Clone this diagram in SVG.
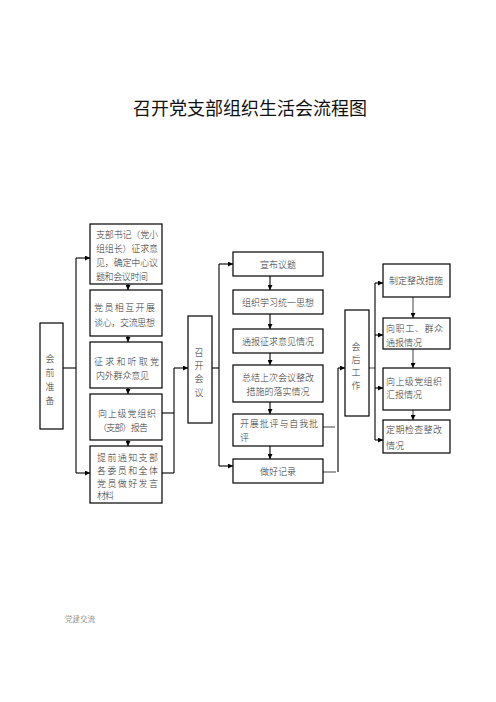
<svg xmlns="http://www.w3.org/2000/svg" width="496" height="702" viewBox="0 0 496 702">
<style>
.box{fill:#fff;stroke:#000;stroke-width:1.2}
.t{font-family:"Noto Sans CJK SC","Liberation Sans",sans-serif;font-size:9px;font-weight:300;fill:#333;dominant-baseline:central}
.c{text-anchor:middle}
.ln{fill:none;stroke:#000;stroke-width:1.1}
.lg{fill:none;stroke:#555;stroke-width:1.1}
.title{font-family:"Noto Sans CJK SC","Liberation Sans",sans-serif;font-size:18px;font-weight:400;fill:#111;text-anchor:middle;dominant-baseline:central}
.foot{font-family:"Noto Sans CJK SC","Liberation Sans",sans-serif;font-size:7.5px;font-weight:300;fill:#555;dominant-baseline:central}
</style>
<defs>
<marker id="ah" viewBox="0 0 10 10" refX="10" refY="5" markerWidth="5" markerHeight="5" orient="auto" markerUnits="userSpaceOnUse">
<path d="M0,0 L10,5 L0,10 z" fill="#000"/>
</marker>
</defs>
<rect width="496" height="702" fill="#fff"/>
<text class="title" x="250" y="107">召开党支部组织生活会流程图</text>

<g id="connectors">
<path class="ln" d="M63,368 H76"/>
<path class="ln" d="M76,258 V473"/>
<path class="ln" d="M76,258 H90" marker-end="url(#ah)"/>
<path class="ln" d="M76,473 H90" marker-end="url(#ah)"/>
<path class="ln" d="M128,284 V290" marker-end="url(#ah)"/>
<path class="ln" d="M128,336 V342" marker-end="url(#ah)"/>
<path class="ln" d="M128,388 V394" marker-end="url(#ah)"/>
<path class="ln" d="M128,440 V446" marker-end="url(#ah)"/>
<path class="ln" d="M162,413 H174"/>
<path class="ln" d="M162,473 H174"/>
<path class="ln" d="M174,368 V473"/>
<path class="ln" d="M174,368 H188" marker-end="url(#ah)"/>
<path class="ln" d="M212,368 H219"/>
<path class="ln" d="M219,264 V466"/>
<path class="ln" d="M219,264 H233" marker-end="url(#ah)"/>
<path class="ln" d="M219,466 H233" marker-end="url(#ah)"/>
<path class="ln" d="M270,276 V290" marker-end="url(#ah)"/>
<path class="ln" d="M270,314 V329" marker-end="url(#ah)"/>
<path class="ln" d="M270,353 V365" marker-end="url(#ah)"/>
<path class="ln" d="M270,402 V414" marker-end="url(#ah)"/>
<path class="ln" d="M270,446 V459" marker-end="url(#ah)"/>
<path class="lg" d="M323,427 H335"/>
<path class="lg" d="M323,472 H336"/>
<path class="ln" d="M338,368 V472"/>
<path class="ln" d="M338,368 H345" marker-end="url(#ah)"/>
<path class="lg" d="M369,368 H375"/>
<path class="ln" d="M375,283 V440"/>
<path class="ln" d="M375,283 H383" marker-end="url(#ah)"/>
<path class="ln" d="M375,335 H383" marker-end="url(#ah)"/>
<path class="ln" d="M375,388 H383" marker-end="url(#ah)"/>
<path class="ln" d="M375,440 H383" marker-end="url(#ah)"/>
<path class="lg" d="M413,297 V318" marker-end="url(#ah)"/>
<path class="lg" d="M413,349 V368" marker-end="url(#ah)"/>
<path class="lg" d="M413,410 V420" marker-end="url(#ah)"/>
</g>

<g id="n-huiqian">
<rect class="box" x="40" y="323" width="23" height="106"/>
<text class="t c" x="50" y="358">会</text>
<text class="t c" x="50" y="372">前</text>
<text class="t c" x="50" y="386">准</text>
<text class="t c" x="50" y="400">备</text>
</g>

<g id="n-c1-1">
<rect class="box" x="90" y="224" width="72" height="60"/>
<text class="t" x="96" y="234" textLength="62" lengthAdjust="spacing">支部书记（党小</text>
<text class="t" x="96" y="248" textLength="62" lengthAdjust="spacing">组组长）征求意</text>
<text class="t" x="96" y="262" textLength="62" lengthAdjust="spacing">见，确定中心议</text>
<text class="t" x="96" y="276" textLength="52" lengthAdjust="spacing">题和会议时间</text>
</g>
<g id="n-c1-2">
<rect class="box" x="90" y="290" width="72" height="46"/>
<text class="t" x="94" y="307" textLength="61" lengthAdjust="spacing">党员相互开展</text>
<text class="t" x="94" y="322" textLength="61" lengthAdjust="spacing">谈心，交流思想</text>
</g>
<g id="n-c1-3">
<rect class="box" x="90" y="342" width="72" height="46"/>
<text class="t" x="94" y="361" textLength="65" lengthAdjust="spacing">征求和听取党</text>
<text class="t" x="96" y="375" textLength="53" lengthAdjust="spacing">内外群众意见</text>
</g>
<g id="n-c1-4">
<rect class="box" x="90" y="394" width="72" height="46"/>
<text class="t" x="98" y="413" textLength="58" lengthAdjust="spacing">向上级党组织</text>
<text class="t" x="98" y="427" textLength="50" lengthAdjust="spacing">（支部）报告</text>
</g>
<g id="n-c1-5">
<rect class="box" x="90" y="446" width="72" height="57"/>
<text class="t" x="97" y="457" textLength="61" lengthAdjust="spacing">提前通知支部</text>
<text class="t" x="97" y="470" textLength="61" lengthAdjust="spacing">各委员和全体</text>
<text class="t" x="97" y="483" textLength="61" lengthAdjust="spacing">党员做好发言</text>
<text class="t" x="97" y="495" textLength="17" lengthAdjust="spacing">材料</text>
</g>

<g id="n-zhaokai">
<rect class="box" x="188" y="316" width="24" height="107"/>
<text class="t c" x="199" y="352">召</text>
<text class="t c" x="199" y="365">开</text>
<text class="t c" x="199" y="378">会</text>
<text class="t c" x="199" y="392">议</text>
</g>

<g id="n-c2-1">
<rect class="box" x="233" y="252" width="90" height="24"/>
<text class="t c" x="278" y="264">宣布议题</text>
</g>
<g id="n-c2-2">
<rect class="box" x="233" y="290" width="90" height="24"/>
<text class="t c" x="278" y="302">组织学习统一思想</text>
</g>
<g id="n-c2-3">
<rect class="box" x="233" y="329" width="90" height="24"/>
<text class="t c" x="278" y="341">通报征求意见情况</text>
</g>
<g id="n-c2-4">
<rect class="box" x="233" y="365" width="90" height="37"/>
<text class="t c" x="278" y="377">总结上次会议整改</text>
<text class="t c" x="278" y="391">措施的落实情况</text>
</g>
<g id="n-c2-5">
<rect class="box" x="233" y="414" width="90" height="32"/>
<text class="t" x="240" y="423" textLength="78" lengthAdjust="spacing">开展批评与自我批</text>
<text class="t" x="240" y="437">评</text>
</g>
<g id="n-c2-6">
<rect class="box" x="233" y="459" width="90" height="24"/>
<text class="t c" x="278" y="471">做好记录</text>
</g>

<g id="n-huihou">
<rect class="box" x="345" y="310" width="24" height="106"/>
<text class="t c" x="356" y="346">会</text>
<text class="t c" x="356" y="359">后</text>
<text class="t c" x="356" y="372">工</text>
<text class="t c" x="356" y="385">作</text>
</g>

<g id="n-c3-1">
<rect class="box" x="383" y="264" width="67" height="33"/>
<text class="t" x="389" y="280" textLength="54" lengthAdjust="spacing">制定整改措施</text>
</g>
<g id="n-c3-2">
<rect class="box" x="383" y="318" width="67" height="31"/>
<text class="t" x="386" y="328" textLength="57" lengthAdjust="spacing">向职工、群众</text>
<text class="t" x="386" y="342">通报情况</text>
</g>
<g id="n-c3-3">
<rect class="box" x="383" y="368" width="67" height="42"/>
<text class="t" x="386" y="381" textLength="56" lengthAdjust="spacing">向上级党组织</text>
<text class="t" x="386" y="394">汇报情况</text>
</g>
<g id="n-c3-4">
<rect class="box" x="383" y="420" width="67" height="33"/>
<text class="t" x="386" y="429" textLength="56" lengthAdjust="spacing">定期检查整改</text>
<text class="t" x="386" y="445">情况</text>
</g>

<text class="foot" x="65" y="618">党建交流</text>
</svg>
